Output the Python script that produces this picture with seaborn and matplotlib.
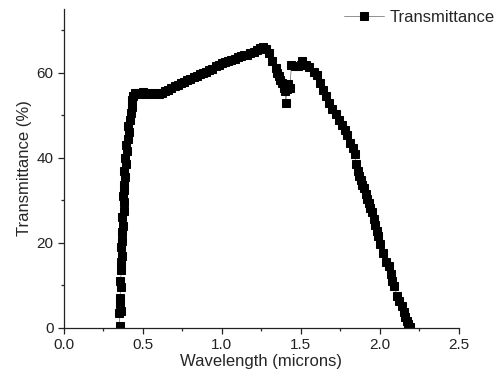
import matplotlib
matplotlib.use("Agg")
import matplotlib.pyplot as plt
import matplotlib.ticker as mticker
import seaborn as sns

# wavelength (microns) and transmittance (%)
wavelength = [
    0.352, 0.350, 0.355, 0.360, 0.353, 0.362, 0.357, 0.364, 0.358, 0.367,
    0.362, 0.369, 0.365, 0.372, 0.368, 0.377, 0.382, 0.375, 0.383, 0.378,
    0.388, 0.383, 0.394, 0.388, 0.398, 0.393, 0.405, 0.410, 0.406, 0.418,
    0.423, 0.430, 0.433, 0.440, 0.447,
    0.46, 0.48, 0.50, 0.52, 0.54, 0.56, 0.58, 0.60, 0.62, 0.64,
    0.66, 0.68, 0.70, 0.72, 0.74, 0.76, 0.78, 0.80, 0.82, 0.84,
    0.86, 0.88, 0.90, 0.92, 0.94, 0.96, 0.98, 1.00, 1.02, 1.04,
    1.06, 1.08, 1.10, 1.12, 1.14, 1.16, 1.18, 1.20, 1.22, 1.24,
    1.26, 1.28, 1.30, 1.32, 1.34, 1.35, 1.36, 1.37, 1.38, 1.39,
    1.40, 1.405, 1.41, 1.42, 1.43, 1.44, 1.46, 1.48, 1.50, 1.51,
    1.53, 1.55, 1.58, 1.60, 1.62, 1.64, 1.66, 1.68, 1.70, 1.72,
    1.74, 1.76, 1.78, 1.79, 1.81, 1.83, 1.84, 1.85, 1.86, 1.87,
    1.88, 1.89, 1.90, 1.91, 1.92, 1.93, 1.94, 1.95, 1.96, 1.97,
    1.98, 1.99, 2.00, 2.02, 2.04, 2.06, 2.07, 2.08, 2.09, 2.11,
    2.12, 2.14, 2.15, 2.16, 2.17, 2.18, 2.19,
]
transmittance = [
    0.5, 3.5, 5.5, 4.0, 7.0, 9.5, 11.0, 13.5, 15.5, 17.0,
    19.0, 20.5, 22.5, 24.0, 26.0, 27.5, 29.5, 31.0, 32.5, 33.5,
    35.5, 37.0, 38.5, 40.0, 41.5, 43.0, 44.5, 46.0, 47.5, 49.0,
    50.5, 52.0, 53.5, 54.5, 55.2,
    55.3, 55.0, 55.4, 55.0, 55.3, 54.9, 55.2, 55.0, 55.3, 55.6,
    56.0, 56.4, 56.8, 57.2, 57.6, 57.9, 58.3, 58.6, 59.0, 59.3,
    59.6, 60.0, 60.3, 60.7, 61.0, 61.5, 61.9, 62.2, 62.5, 62.7,
    63.0, 63.3, 63.6, 63.9, 64.1, 64.3, 64.6, 64.9, 65.3, 65.8,
    66.1, 65.6, 64.6, 62.8, 61.2, 60.0, 59.2, 58.3, 57.5, 56.5,
    55.8, 53.0, 56.2, 57.3, 56.5, 61.9, 61.7, 61.5, 61.8, 62.7,
    61.9, 61.4, 60.2, 59.4, 57.6, 56.0, 54.5, 53.0, 51.6, 50.3,
    49.0, 47.7, 46.6, 45.3, 43.6, 42.2, 41.0, 38.5, 37.0, 35.8,
    34.8, 33.6, 32.8, 31.5, 30.4, 29.3, 28.3, 27.3, 25.5, 24.3,
    22.8, 21.5, 19.8, 17.6, 15.5, 14.6, 12.6, 11.0, 9.8, 7.5,
    6.3, 5.2, 3.8, 2.5, 1.5, 0.8, 0.3,
]

sns.set_style("ticks")
plt.rcParams["font.family"] = ["Liberation Sans", "DejaVu Sans"]

fig = plt.figure(figsize=(5.02, 3.76), dpi=100)
ax = fig.add_axes([0.1275, 0.128, 0.7865, 0.848])

sns.lineplot(
    x=wavelength, y=transmittance, ax=ax, sort=False, estimator=None,
    color="gray", linewidth=0.6, marker="s", markersize=5.5,
    markerfacecolor="black", markeredgecolor="black", label="Transmittance",
)

ax.set_xlim(0, 2.5)
ax.set_ylim(0, 75)
ax.xaxis.set_major_locator(mticker.MultipleLocator(0.5))
ax.xaxis.set_minor_locator(mticker.MultipleLocator(0.25))
ax.xaxis.set_major_formatter(mticker.FormatStrFormatter("%.1f"))
ax.yaxis.set_major_locator(mticker.MultipleLocator(20))
ax.yaxis.set_minor_locator(mticker.MultipleLocator(10))
ax.tick_params(which="major", direction="out", length=4, width=0.9, labelsize=11, colors="#222222")
ax.tick_params(which="minor", direction="out", length=2.5, width=0.9)
for side in ["left", "bottom"]:
    ax.spines[side].set_linewidth(0.9)
    ax.spines[side].set_color("#222222")
sns.despine(ax=ax)

ax.set_xlabel("Wavelength (microns)", fontsize=12, labelpad=1)
ax.set_ylabel("Transmittance (%)", fontsize=12, labelpad=3)

ax.get_legend().remove()
handles, labels = ax.get_legend_handles_labels()
fig.legend(handles, labels, loc="upper right", bbox_to_anchor=(1.005, 1.0),
           frameon=False, fontsize=12, handlelength=2.4, handletextpad=0.3,
           borderaxespad=0.2)

fig.savefig("out.png", dpi=100)
